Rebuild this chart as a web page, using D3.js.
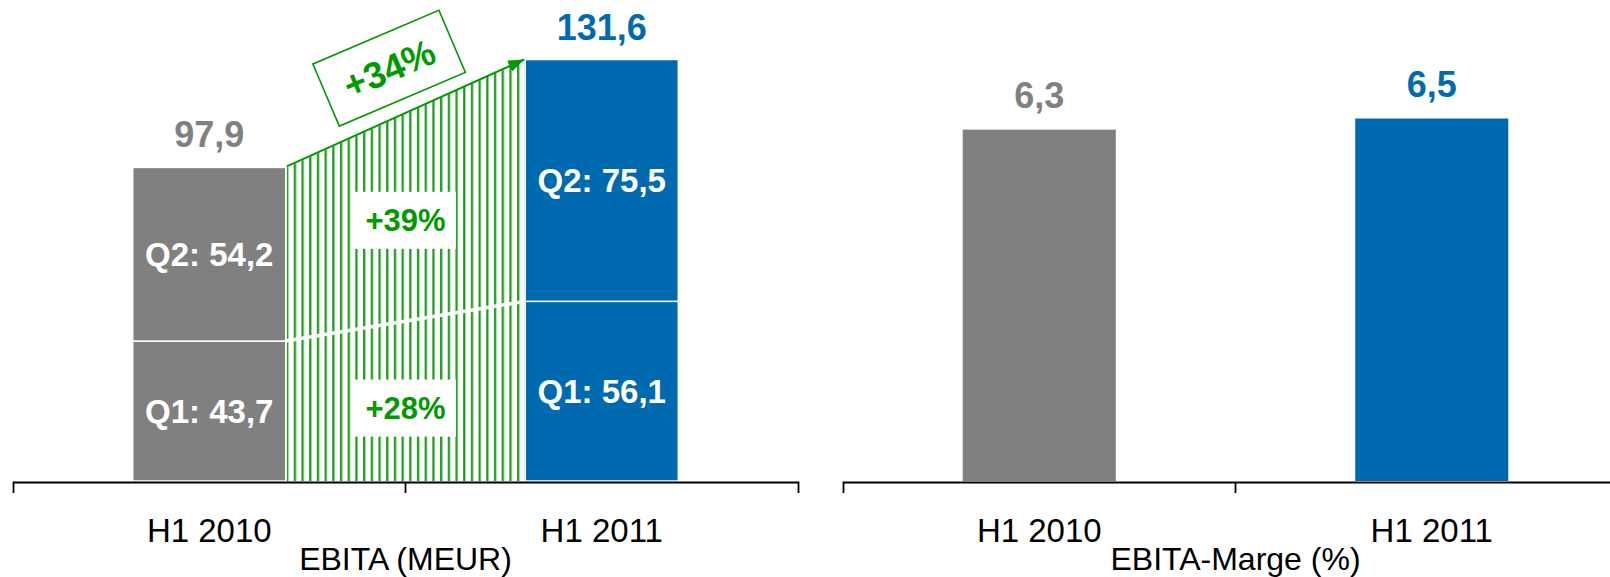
<!DOCTYPE html>
<html>
<head>
<meta charset="utf-8">
<script src="https://cdn.jsdelivr.net/npm/d3@7"></script>
<style>
  body { margin: 0; background: #fff; }
  text { font-family: "Liberation Sans", Arial, sans-serif; }
</style>
</head>
<body>
<svg id="chart" width="1610" height="577"></svg>
<script>
// values
var categories = ["H1 2010", "H1 2011"];
var q1Values = [43.7, 56.1];
var q2Values = [54.2, 75.5];
var totalValues = [97.9, 131.6];
var totalLabels = ["97,9", "131,6"];
var q1Labels = ["Q1: 43,7", "Q1: 56,1"];
var q2Labels = ["Q2: 54,2", "Q2: 75,5"];
var growthLabels = {q1: "+28%", q2: "+39%", total: "+34%"};
var marginValues = [6.3, 6.5];
var marginLabels = ["6,3", "6,5"];
var titles = ["EBITA (MEUR)", "EBITA-Marge (%)"];

var barColors = ["#808080", "#006ab0"];
var green = "#009a00";
var hatchGreen = "#35aa35";

(function () {
  var svg = d3.select("#chart");
  var baseY = 481;
  var axisY = 482;

  // shared defs: hatch pattern and arrow head
  var defs = svg.append("defs");
  var pat = defs.append("pattern")
    .attr("id", "hatch")
    .attr("patternUnits", "userSpaceOnUse")
    .attr("width", 7.7)
    .attr("height", 20)
    .attr("patternTransform", "translate(286,0)");
  pat.append("rect").attr("x", 0).attr("y", 0).attr("width", 2.4).attr("height", 20).attr("fill", hatchGreen);
  pat.append("rect").attr("x", 0.5).attr("y", 0).attr("width", 1.3).attr("height", 20).attr("fill", "#1f961f");

  defs.append("marker")
    .attr("id", "arrow")
    .attr("markerUnits", "userSpaceOnUse")
    .attr("viewBox", "0 0 16 12")
    .attr("refX", 16)
    .attr("refY", 6)
    .attr("markerWidth", 16)
    .attr("markerHeight", 12)
    .attr("orient", "auto")
    .append("path")
    .attr("d", "M0,0L16,6L0,12Z")
    .attr("fill", green);

  // ---------- left chart: EBITA (MEUR) ----------
  var xL = d3.scaleBand().domain(categories).range([13, 798]);
  var yL = d3.scaleLinear().domain([0, totalValues[1]]).range([baseY, 59.5]);
  var bw = xL.bandwidth() * 0.39;
  var left = function (i) { return xL(categories[i]) + (xL.bandwidth() - bw) / 2; };

  var gL = svg.append("g");

  // hatched growth area between the two bars
  var xa = left(0) + bw, xb = left(1);
  gL.append("path")
    .attr("d", "M" + (xa + 1) + "," + yL(0) +
               "L" + (xa + 1) + "," + yL(totalValues[0]) +
               "L" + xb + "," + yL(totalValues[1]) +
               "L" + xb + "," + yL(0) + "Z")
    .attr("fill", "url(#hatch)");

  // white split between Q1 and Q2 across the hatch
  gL.append("line")
    .attr("x1", xa).attr("y1", yL(q1Values[0]))
    .attr("x2", xb).attr("y2", yL(q1Values[1]))
    .attr("stroke", "#fff").attr("stroke-width", 3.5);

  // stacked bars
  categories.forEach(function (c, i) {
    gL.append("rect")
      .attr("x", left(i)).attr("width", bw)
      .attr("y", yL(q1Values[i])).attr("height", yL(0) - yL(q1Values[i]))
      .attr("fill", barColors[i]).attr("stroke", "#fff").attr("stroke-width", 1.5);
    gL.append("rect")
      .attr("x", left(i)).attr("width", bw)
      .attr("y", yL(totalValues[i])).attr("height", yL(q1Values[i]) - yL(totalValues[i]))
      .attr("fill", barColors[i]).attr("stroke", "#fff").attr("stroke-width", 1.5);

    var cx = left(i) + bw / 2;
    gL.append("text")
      .attr("x", cx).attr("y", (yL(q1Values[i]) + yL(0)) / 2)
      .attr("dy", "0.36em").attr("text-anchor", "middle")
      .attr("font-size", 33).attr("font-weight", "bold").attr("fill", "#fff")
      .text(q1Labels[i]);
    gL.append("text")
      .attr("x", cx).attr("y", (yL(q1Values[i]) + yL(totalValues[i])) / 2)
      .attr("dy", "0.36em").attr("text-anchor", "middle")
      .attr("font-size", 33).attr("font-weight", "bold").attr("fill", "#fff")
      .text(q2Labels[i]);
    gL.append("text")
      .attr("x", cx).attr("y", yL(totalValues[i]) - 20)
      .attr("text-anchor", "middle")
      .attr("font-size", 36).attr("font-weight", "bold").attr("fill", barColors[i])
      .text(totalLabels[i]);
  });

  // green trend line with arrow
  gL.append("line")
    .attr("x1", xa + 1).attr("y1", yL(totalValues[0]) - 1)
    .attr("x2", xb - 1).attr("y2", yL(totalValues[1]))
    .attr("stroke", green).attr("stroke-width", 2)
    .attr("marker-end", "url(#arrow)");

  // growth label boxes inside the hatch
  var midX = (xa + xb) / 2;
  function growthBox(cy, label) {
    gL.append("rect")
      .attr("x", midX - 50.5).attr("y", cy - 28.5)
      .attr("width", 101).attr("height", 57)
      .attr("fill", "#fff");
    gL.append("text")
      .attr("x", midX).attr("y", cy).attr("dy", "0.36em")
      .attr("text-anchor", "middle")
      .attr("font-size", 31).attr("font-weight", "bold").attr("fill", green)
      .text(label);
  }
  var topMid = (yL(totalValues[0]) + yL(totalValues[1])) / 2;
  var splitMid = (yL(q1Values[0]) + yL(q1Values[1])) / 2;
  growthBox((topMid + splitMid) / 2 + 3, growthLabels.q2);
  growthBox((splitMid + yL(0)) / 2 + 7, growthLabels.q1);

  // rotated total growth box above the arrow
  var ax0 = xa, ay0 = yL(totalValues[0]), ax1 = xb, ay1 = yL(totalValues[1]);
  var ang = Math.atan2(ay1 - ay0, ax1 - ax0);
  var t = 0.514, off = 48;
  var bx = ax0 + (ax1 - ax0) * t + off * Math.sin(ang);
  var by = ay0 + (ay1 - ay0) * t - off * Math.cos(ang);
  var rot = gL.append("g")
    .attr("transform", "translate(" + bx + "," + by + ") rotate(" + (ang * 180 / Math.PI + 1.2) + ")");
  rot.append("rect")
    .attr("x", -68.5).attr("y", -33.75).attr("width", 137).attr("height", 67.5)
    .attr("fill", "#fff").attr("stroke", green).attr("stroke-width", 1.6);
  rot.append("text")
    .attr("x", 0).attr("y", 0).attr("dy", "0.36em")
    .attr("text-anchor", "middle")
    .attr("font-size", 37).attr("font-weight", "bold").attr("fill", green)
    .text(growthLabels.total);

  drawAxis(gL, xL, titles[0]);

  // ---------- right chart: EBITA-Marge (%) ----------
  var xR = d3.scaleBand().domain(categories).range([843, 1628]);
  var yR = d3.scaleLinear().domain([0, marginValues[1]]).range([baseY, 118.5]);
  var bwR = xR.bandwidth() * 0.39;
  var gR = svg.append("g");

  gR.selectAll("rect.bar")
    .data(marginValues)
    .enter().append("rect")
    .attr("class", "bar")
    .attr("x", function (d, i) { return xR(categories[i]) + (xR.bandwidth() - bwR) / 2; })
    .attr("width", bwR)
    .attr("y", function (d) { return yR(d); })
    .attr("height", function (d) { return yR(0) - yR(d); })
    .attr("fill", function (d, i) { return barColors[i]; });

  gR.selectAll("text.val")
    .data(marginValues)
    .enter().append("text")
    .attr("class", "val")
    .attr("x", function (d, i) { return xR(categories[i]) + xR.bandwidth() / 2; })
    .attr("y", function (d) { return yR(d) - 22; })
    .attr("text-anchor", "middle")
    .attr("font-size", 36).attr("font-weight", "bold")
    .attr("fill", function (d, i) { return barColors[i]; })
    .text(function (d, i) { return marginLabels[i]; });

  drawAxis(gR, xR, titles[1]);

  function drawAxis(g, x, title) {
    var ax = g.append("g")
      .attr("transform", "translate(0," + axisY + ")")
      .call(d3.axisBottom(x).tickSize(0).tickSizeOuter(11).tickPadding(37));
    ax.attr("font-family", null).attr("font-size", null);
    ax.select(".domain").attr("stroke", "#000").attr("stroke-width", 1.8);
    ax.selectAll(".tick text")
      .attr("font-size", 33).attr("fill", "#000");
    // ticks between categories
    ax.selectAll("line.sep")
      .data(categories.slice(1))
      .enter().append("line")
      .attr("class", "sep")
      .attr("x1", function (d) { return x(d); }).attr("x2", function (d) { return x(d); })
      .attr("y1", 0).attr("y2", 11)
      .attr("stroke", "#000").attr("stroke-width", 1.8);
    var r = x.range();
    g.append("text")
      .attr("x", (r[0] + r[1]) / 2)
      .attr("y", 570)
      .attr("text-anchor", "middle")
      .attr("font-size", 32).attr("fill", "#000")
      .text(title);
  }
}());
</script>
</body>
</html>
